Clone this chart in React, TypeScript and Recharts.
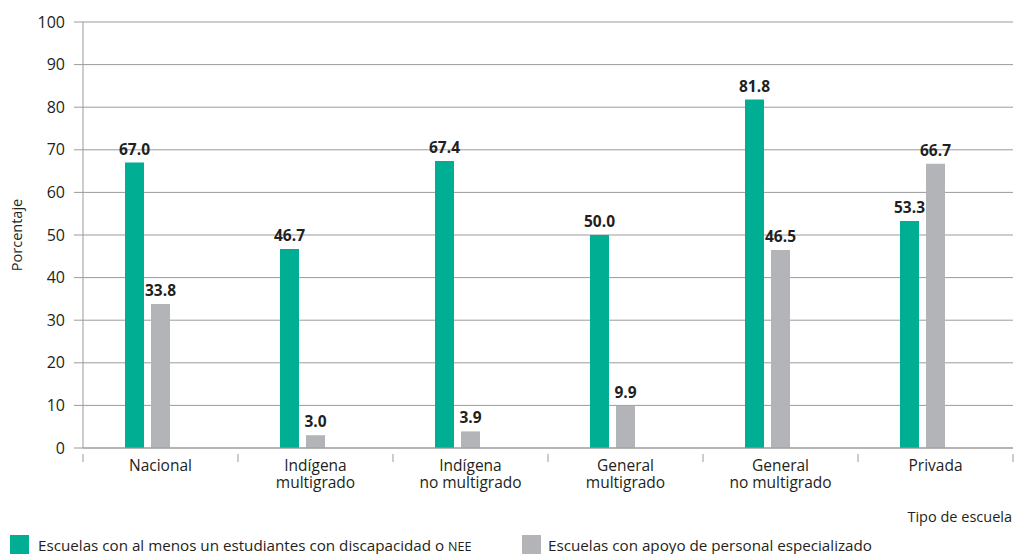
import React from "react";
import { BarChart, Bar, XAxis, YAxis, CartesianGrid, LabelList } from "recharts";

const categories = [
  "Nacional",
  "Indígena\nmultigrado",
  "Indígena\nno multigrado",
  "General\nmultigrado",
  "General\nno multigrado",
  "Privada",
];
const withNEE = [67.0, 46.7, 67.4, 50.0, 81.8, 53.3];
const withSupport = [33.8, 3.0, 3.9, 9.9, 46.5, 66.7];
const yTicks = [0, 10, 20, 30, 40, 50, 60, 70, 80, 90, 100];
const seriesNames = [
  "Escuelas con al menos un estudiantes con discapacidad o NEE",
  "Escuelas con apoyo de personal especializado",
];

const GREEN = "#00AE93";
const GRAY = "#B3B4B7";
const TEXT = "#231F20";
const LINE = "#9B9B9B";
const FONT = "'Open Sans', 'Noto Sans', sans-serif";

const data = categories.map((c, i) => ({
  name: c,
  nee: withNEE[i],
  apoyo: withSupport[i],
  blank: null as number | null,
}));

const XTick = (props: any) => {
  const { x, y, payload, index, visibleTicksCount } = props;
  const count = visibleTicksCount ?? 6;
  const w = typeof props.width === "number" && props.width > 100 ? props.width : 930;
  const band = w / count;
  const lines = String(payload.value).split("\n");
  return (
    <g>
      <line x1={x - band / 2} x2={x - band / 2} y1={y - 2} y2={y + 6} stroke={LINE} strokeWidth={1} />
      {index === count - 1 && (
        <line x1={x + band / 2} x2={x + band / 2} y1={y - 2} y2={y + 6} stroke={LINE} strokeWidth={1} />
      )}
      <text x={x} y={y + 15} textAnchor="middle" fill={TEXT} fontSize={15.5} fontFamily={FONT}>
        {lines.map((l, i) => (
          <tspan key={i} x={x} dy={i === 0 ? 0 : 17}>
            {l}
          </tspan>
        ))}
      </text>
    </g>
  );
};

const AxisTitle = (props: any) => {
  const vb = props.viewBox || { x: 83, y: 448, width: 930, height: 106 };
  return (
    <text x={vb.x + vb.width - 1} y={vb.y + 74} textAnchor="end" fill={TEXT} fontSize={14.5} fontFamily={FONT}>
      Tipo de escuela
    </text>
  );
};

const fmt = (v: any) => (typeof v === "number" ? v.toFixed(1) : "");

const legendRow: React.CSSProperties = {
  position: "absolute",
  top: 535,
  display: "flex",
  alignItems: "flex-start",
  fontSize: 15.2,
  lineHeight: "16px",
  color: TEXT,
  whiteSpace: "nowrap",
};

export default function App() {
  return (
    <div style={{ position: "absolute", left: 0, top: 0, width: 1015, height: 554, background: "#fff", fontFamily: FONT, overflow: "hidden" }}>
      <BarChart
        width={1015}
        height={554}
        data={data}
        margin={{ top: 22, right: 2, bottom: 0, left: 0 }}
        barSize={19}
        barGap={7}
      >
        <CartesianGrid horizontal vertical={false} stroke={LINE} strokeWidth={1} />
        <XAxis
          dataKey="name"
          height={106}
          tick={<XTick />}
          tickLine={false}
          axisLine={{ stroke: LINE }}
          interval={0}
          label={<AxisTitle />}
        />
        <YAxis
          width={83}
          domain={[0, 100]}
          ticks={yTicks}
          tickSize={9}
          tickMargin={9}
          tickLine={{ stroke: LINE }}
          axisLine={{ stroke: LINE }}
          tick={{ fill: TEXT, fontSize: 16, fontFamily: FONT }}
          label={{ value: "Porcentaje", angle: -90, position: "insideLeft", offset: 17, fill: TEXT, fontSize: 14.5, fontFamily: FONT, style: { textAnchor: "middle" } }}
        />
        <Bar dataKey="nee" fill={GREEN} isAnimationActive={false}>
          <LabelList dataKey="nee" position="top" offset={8} formatter={fmt} fill={TEXT} fontSize={15.5} fontWeight="bold" fontFamily={FONT} />
        </Bar>
        <Bar dataKey="apoyo" fill={GRAY} isAnimationActive={false}>
          <LabelList dataKey="apoyo" position="top" offset={8} formatter={fmt} fill={TEXT} fontSize={15.5} fontWeight="bold" fontFamily={FONT} />
        </Bar>
        <Bar dataKey="blank" fill="transparent" isAnimationActive={false} />
      </BarChart>
      <div style={{ ...legendRow, left: 10 }}>
        <span style={{ display: "inline-block", width: 19, height: 19, background: GREEN, marginRight: 9 }} />
        <span style={{ paddingTop: 2 }}>
          Escuelas con al menos un estudiantes con discapacidad o <span style={{ fontSize: 12.5 }}>NEE</span>
        </span>
      </div>
      <div style={{ ...legendRow, left: 522 }}>
        <span style={{ display: "inline-block", width: 19, height: 19, background: GRAY, marginRight: 7 }} />
        <span style={{ paddingTop: 2 }}>{seriesNames[1]}</span>
      </div>
    </div>
  );
}
